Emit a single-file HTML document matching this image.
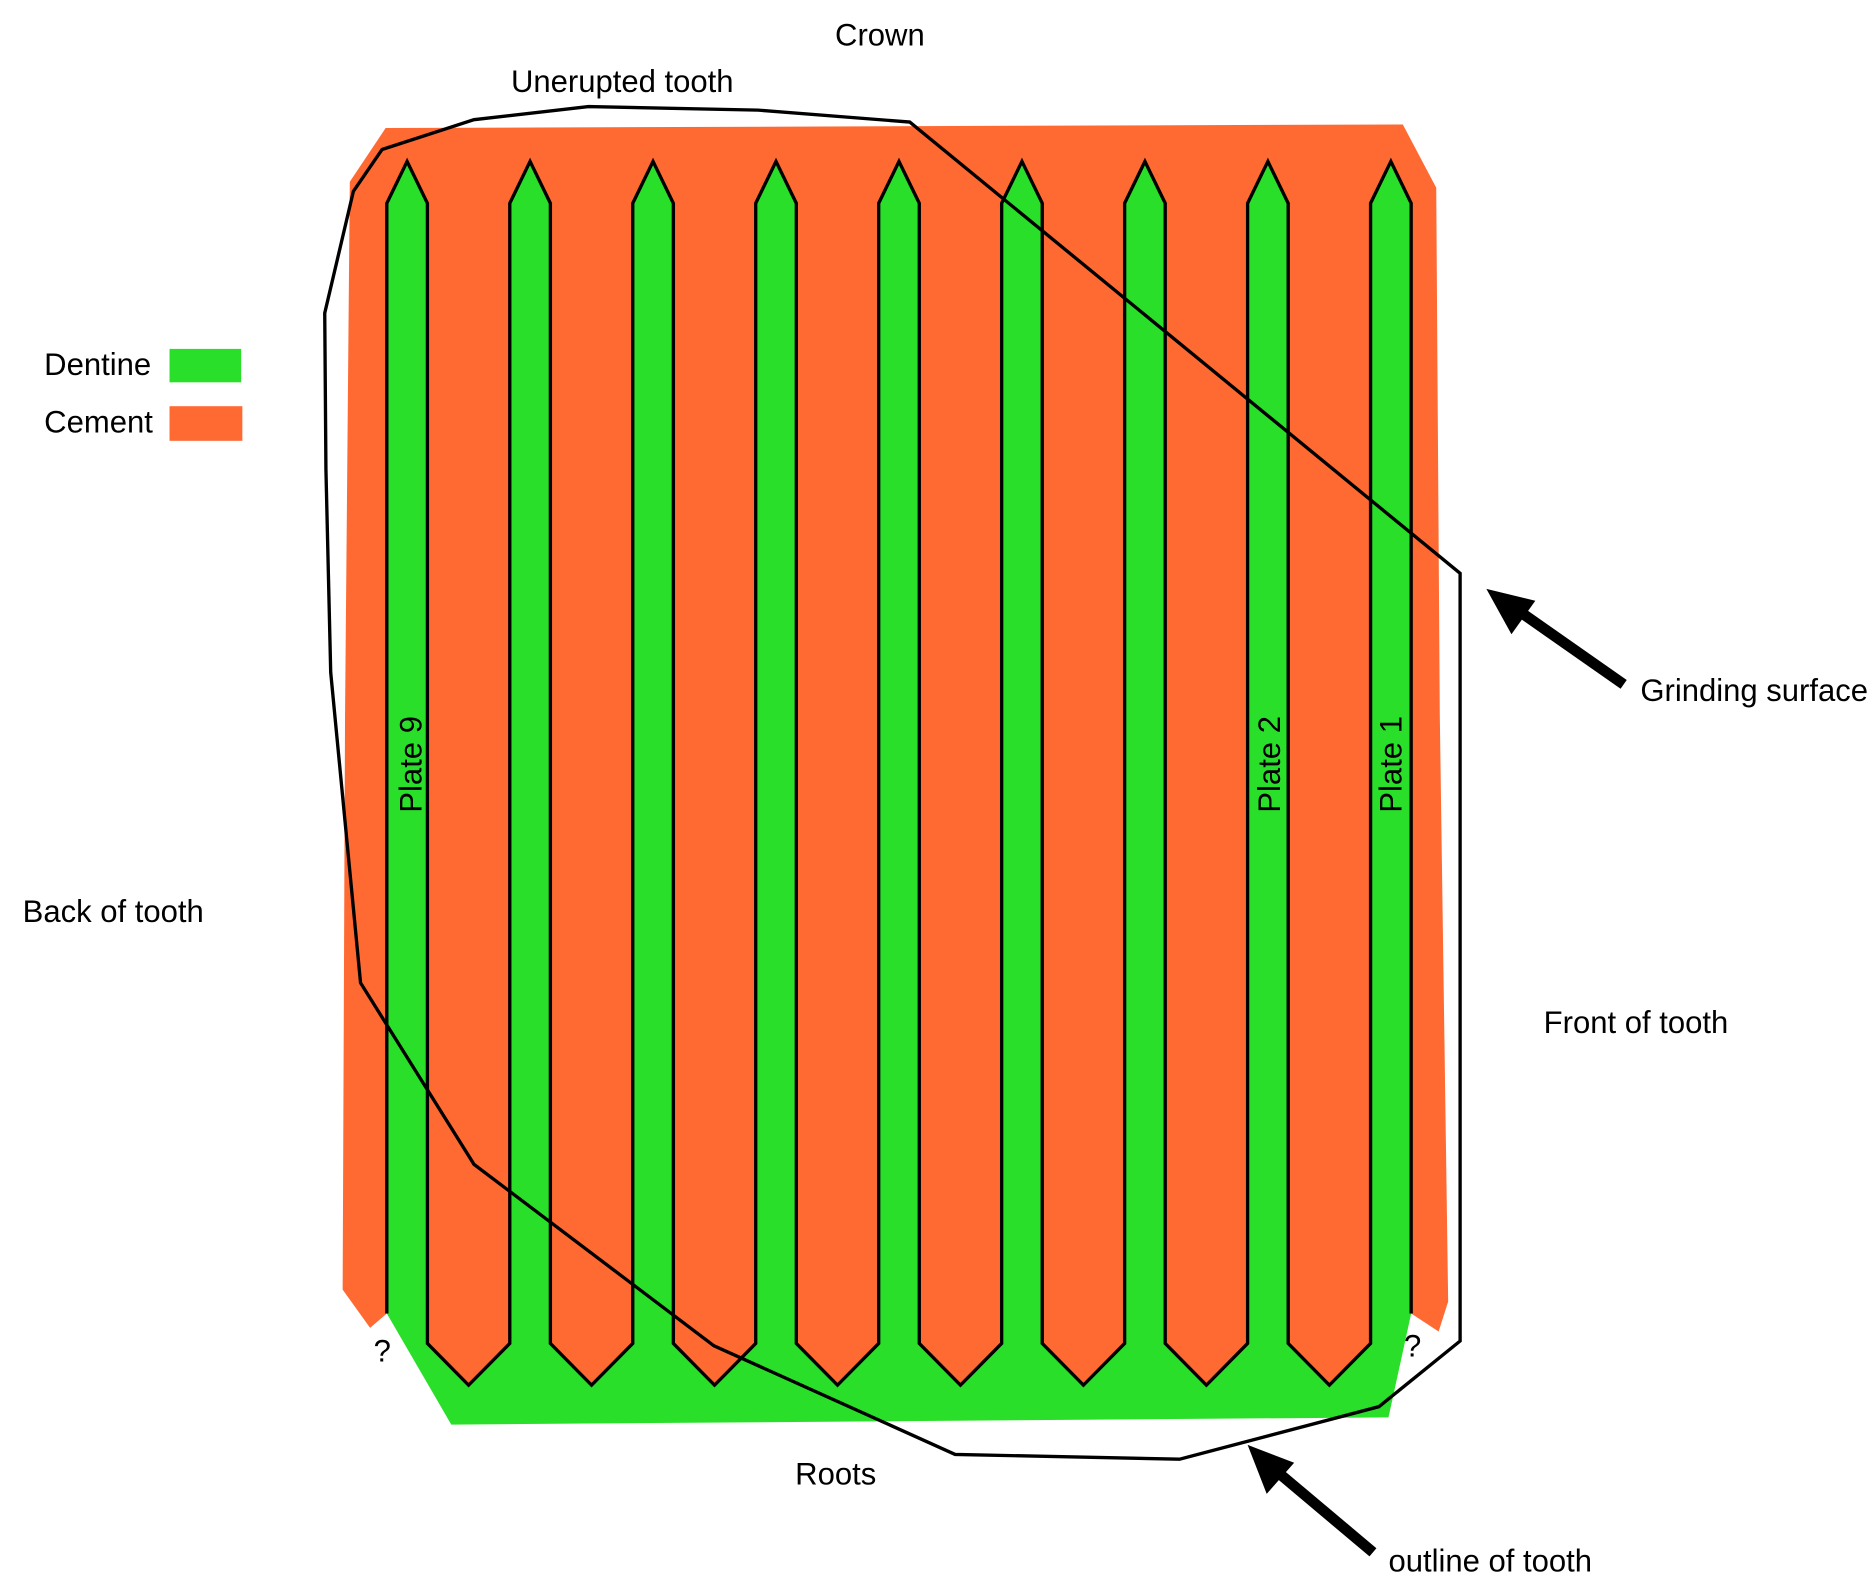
<!DOCTYPE html>
<html><head><meta charset="utf-8"><style>
html,body{margin:0;padding:0;background:#fff;width:1872px;height:1592px;overflow:hidden}
svg{display:block}
text{font-family:"Liberation Sans",sans-serif;font-size:26px;fill:#000}
</style></head><body>
<svg width="1872" height="1592" viewBox="0 0 1568 1333" xmlns="http://www.w3.org/2000/svg">
<polygon points="323,107 1175,104 1203,157 1206,600 1213,1090 1205,1115 1182,1100 324,1100 310,1112 287,1080 289,600 293,152" fill="#ff6a33"/>
<polygon fill="#2adf2a" points="
324,1100 324,170 341,135 358,170 358,1125 392.5,1160 427,1125
427,170 444,135 461,170 461,1125 495.5,1160 530,1125
530,170 547,135 564,170 564,1125 598.5,1160 633,1125
633,170 650,135 667,170 667,1125 701.5,1160 736,1125
736,170 753,135 770,170 770,1125 804.5,1160 839,1125
839,170 856,135 873,170 873,1125 907.5,1160 942,1125
942,170 959,135 976,170 976,1125 1010.5,1160 1045,1125
1045,170 1062,135 1079,170 1079,1125 1113.5,1160 1148,1125
1148,170 1165,135 1182,170 1182,1100 1163,1187 378,1193"/>
<g fill="#ff6a33">
<polygon points="358,1090 358,1125 392.5,1160 427,1125 427,1090"/>
<polygon points="461,1090 461,1125 495.5,1160 530,1125 530,1090"/>
<polygon points="564,1090 564,1125 598.5,1160 633,1125 633,1090"/>
<polygon points="667,1090 667,1125 701.5,1160 736,1125 736,1090"/>
<polygon points="770,1090 770,1125 804.5,1160 839,1125 839,1090"/>
<polygon points="873,1090 873,1125 907.5,1160 942,1125 942,1090"/>
<polygon points="976,1090 976,1125 1010.5,1160 1045,1125 1045,1090"/>
<polygon points="1079,1090 1079,1125 1113.5,1160 1148,1125 1148,1090"/>
</g>
<polyline fill="none" stroke="#000" stroke-width="2.8" stroke-linejoin="miter" points="
324,1100 324,170 341,135 358,170 358,1125 392.5,1160 427,1125
427,170 444,135 461,170 461,1125 495.5,1160 530,1125
530,170 547,135 564,170 564,1125 598.5,1160 633,1125
633,170 650,135 667,170 667,1125 701.5,1160 736,1125
736,170 753,135 770,170 770,1125 804.5,1160 839,1125
839,170 856,135 873,170 873,1125 907.5,1160 942,1125
942,170 959,135 976,170 976,1125 1010.5,1160 1045,1125
1045,170 1062,135 1079,170 1079,1125 1113.5,1160 1148,1125
1148,170 1165,135 1182,170 1182,1100"/>
<polygon fill="none" stroke="#000" stroke-width="2.8" points="320,125 397,100 493,89 635,92 762,102 1223,480 1223,1123 1155,1178 988,1222 800,1218 598,1127 397,975 302,823 277,563 273,393 272,262 296,160"/>
<line x1="1360" y1="573" x2="1270" y2="510" stroke="#000" stroke-width="9"/>
<polygon points="1245,493 1286,503 1266,531" fill="#000"/>
<line x1="1150" y1="1300" x2="1068" y2="1231" stroke="#000" stroke-width="9"/>
<polygon points="1045,1210 1084,1225 1061,1251" fill="#000"/>
<rect x="142" y="292" width="60" height="28" fill="#2adf2a"/>
<rect x="142" y="340" width="61" height="29" fill="#ff6a33"/>
<text x="37" y="314">Dentine</text>
<text x="37" y="362">Cement</text>
<text x="737" y="38" text-anchor="middle">Crown</text>
<text x="428" y="77">Unerupted tooth</text>
<text x="19" y="772">Back of tooth</text>
<text x="1293" y="865">Front of tooth</text>
<text x="1374" y="587">Grinding surface</text>
<text x="700" y="1243" text-anchor="middle">Roots</text>
<text x="1163" y="1316">outline of tooth</text>
<text x="313" y="1140" font-size="30">?</text>
<text x="1176" y="1136" font-size="30">?</text>
<text transform="translate(353,640) rotate(-90)" text-anchor="middle">Plate 9</text>
<text transform="translate(1072,640) rotate(-90)" text-anchor="middle">Plate 2</text>
<text transform="translate(1174,640) rotate(-90)" text-anchor="middle">Plate 1</text>
</svg>
</body></html>
